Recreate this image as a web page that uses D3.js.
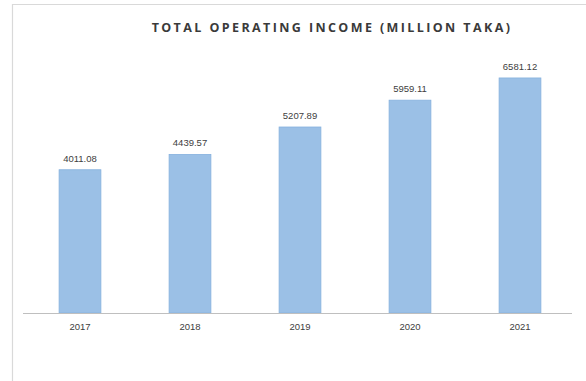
<!DOCTYPE html>
<html>
<head>
<meta charset="utf-8">
<script src="https://cdn.jsdelivr.net/npm/d3@7"></script>
<style>
  html, body { margin: 0; padding: 0; background: #fff; }
  svg { display: block; }
</style>
</head>
<body>
<svg id="chart" width="586" height="381"></svg>
<script>
// Total operating income by year (million Taka)
const years = ["2017", "2018", "2019", "2020", "2021"];
const income = [4011.08, 4439.57, 5207.89, 5959.11, 6581.12];
const valueLabels = ["4011.08", "4439.57", "5207.89", "5959.11", "6581.12"];
const chartTitle = "TOTAL OPERATING INCOME (MILLION TAKA)";

const svg = d3.select("#chart");
const W = 586, H = 381;

// Frame around the chart area
svg.append("path")
  .attr("d", `M12.5,${H} L12.5,4.5 L${W},4.5`)
  .attr("fill", "none")
  .attr("stroke", "#d9d9d9")
  .attr("stroke-width", 1.2);

const x = d3.scaleBand()
  .domain(years)
  .range([25, 575])
  .paddingInner(0.62)
  .paddingOuter(0.31);

const y = d3.scaleLinear()
  .domain([0, 7000])
  .range([313, 63]);

// Title
svg.append("text")
  .attr("x", 332)
  .attr("y", 32)
  .attr("text-anchor", "middle")
  .attr("font-family", "'Open Sans', 'DejaVu Sans', sans-serif")
  .attr("font-weight", 700)
  .attr("font-size", 12.5)
  .attr("letter-spacing", 2.4)
  .attr("fill", "#3a3a3a")
  .text(chartTitle);

// Bars
svg.append("g")
  .selectAll("rect")
  .data(income)
  .join("rect")
  .attr("x", (d, i) => x(years[i]))
  .attr("y", d => y(d))
  .attr("width", x.bandwidth())
  .attr("height", d => y(0) - y(d))
  .attr("fill", "#9bc0e6")
  .attr("stroke", "#86b1de")
  .attr("stroke-width", 0.8);

// Value labels above bars
svg.append("g")
  .selectAll("text")
  .data(income)
  .join("text")
  .attr("x", (d, i) => x(years[i]) + x.bandwidth() / 2)
  .attr("y", d => y(d) - 8)
  .attr("text-anchor", "middle")
  .attr("font-family", "'Liberation Sans', Arial, sans-serif")
  .attr("font-size", 9.5)
  .attr("fill", "#404040")
  .text((d, i) => valueLabels[i]);

// Category axis
const xAxis = svg.append("g")
  .attr("transform", `translate(0,${y(0)})`)
  .call(d3.axisBottom(x).tickSize(0).tickPadding(10));
xAxis.select(".domain")
  .attr("d", "M23,0.5 H572")
  .attr("stroke", "#bfbfbf")
  .attr("stroke-width", 1.2);
xAxis.selectAll("text")
  .attr("font-family", "'Liberation Sans', Arial, sans-serif")
  .attr("font-size", 9.5)
  .attr("fill", "#404040");
</script>
</body>
</html>
